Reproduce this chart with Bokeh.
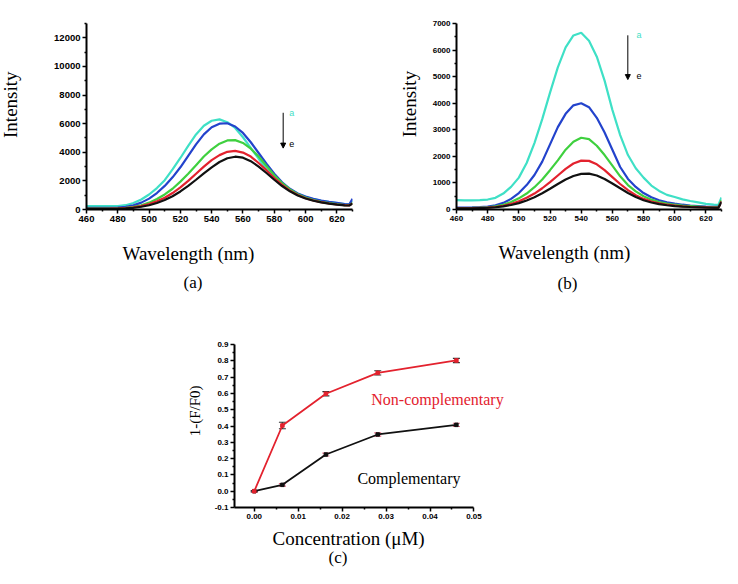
import math
from bokeh.plotting import figure
from bokeh.models import (Range1d, FixedTicker, Title, Label, Arrow, NormalHead,
                          Whisker, TeeHead, ColumnDataSource, Spacer, NumeralTickFormatter)
from bokeh.core.properties import value
from bokeh.layouts import column, row
from bokeh.embed import file_html
from bokeh.resources import INLINE

# ---------------- data ----------------
wavelength = [460, 465, 470, 475, 480, 485, 490, 495, 500, 505, 510, 515, 520, 525, 530,
              535, 540, 545, 550, 555, 560, 565, 570, 575, 580, 585, 590, 595, 600, 605,
              610, 615, 620, 625, 628, 630]

# panel (a) spectra a..e
spec_a_a = [230, 230, 230, 235, 245, 300, 450, 700, 1050, 1500, 2050, 2800, 3600, 4450, 5250,
            5850, 6200, 6300, 6100, 5700, 5050, 4300, 3550, 2850, 2250, 1750, 1380, 1100, 880, 720,
            600, 520, 440, 380, 360, 600]
spec_a_b = [110, 110, 110, 115, 130, 180, 290, 480, 760, 1150, 1650, 2250, 2950, 3750, 4550,
            5250, 5750, 6000, 6030, 5800, 5350, 4700, 3950, 3200, 2500, 1900, 1450, 1120, 900, 740,
            620, 530, 460, 380, 360, 750]
spec_a_c = [60, 60, 60, 65, 80, 110, 180, 300, 480, 730, 1050, 1450, 1950, 2500, 3100,
            3700, 4200, 4600, 4830, 4850, 4650, 4250, 3700, 3050, 2400, 1850, 1400, 1070, 830, 660,
            530, 440, 370, 310, 300, 450]
spec_a_d = [50, 50, 50, 55, 70, 95, 150, 240, 380, 570, 820, 1150, 1550, 2000, 2500,
            3000, 3450, 3800, 4030, 4100, 3980, 3700, 3250, 2750, 2200, 1720, 1320, 1010, 790, 630,
            510, 420, 350, 300, 290, 430]
spec_a_e = [40, 40, 40, 45, 60, 80, 120, 190, 300, 450, 660, 930, 1260, 1650, 2080,
            2530, 2950, 3320, 3580, 3690, 3620, 3380, 3000, 2550, 2080, 1640, 1270, 980, 770, 610,
            500, 410, 340, 290, 280, 420]

# panel (b) spectra a..e
spec_b_a = [350, 345, 345, 350, 375, 440, 600, 850, 1200, 1750, 2500, 3400, 4400, 5350, 6100,
            6550, 6650, 6350, 5750, 4850, 3750, 2800, 2050, 1550, 1200, 900, 700, 550, 470, 380,
            320, 270, 210, 180, 175, 450]
spec_b_b = [70, 75, 80, 90, 110, 160, 250, 400, 620, 920, 1300, 1800, 2450, 3100, 3600,
            3920, 4000, 3850, 3450, 2900, 2250, 1600, 1150, 850, 620, 460, 350, 270, 220, 180,
            150, 130, 110, 100, 100, 300]
spec_b_c = [50, 55, 60, 70, 85, 120, 180, 280, 420, 600, 840, 1130, 1480, 1850, 2250,
            2550, 2700, 2650, 2400, 2050, 1650, 1250, 920, 680, 500, 370, 280, 220, 180, 150,
            130, 110, 90, 80, 80, 350]
spec_b_d = [40, 45, 50, 60, 70, 95, 140, 210, 310, 440, 600, 800, 1030, 1280, 1530,
            1730, 1840, 1830, 1700, 1480, 1220, 960, 730, 540, 400, 300, 230, 180, 150, 120,
            100, 90, 80, 70, 70, 300]
spec_b_e = [40, 40, 45, 55, 65, 85, 120, 170, 240, 340, 460, 610, 780, 960, 1130,
            1260, 1340, 1350, 1280, 1150, 980, 800, 620, 470, 350, 265, 200, 160, 130, 110,
            95, 85, 75, 65, 65, 280]

spec_colors = ["#3fe0c6", "#2343cc", "#3fd03f", "#e3222e", "#111111"]

# panel (c)
concentration = [0.0, 0.0064, 0.0163, 0.0281, 0.046]
non_comp = [0.0, 0.403, 0.598, 0.726, 0.802]
non_comp_err = [0.004, 0.02, 0.013, 0.013, 0.013]
comp = [0.0, 0.039, 0.225, 0.348, 0.407]
comp_err = [0.004, 0.008, 0.009, 0.01, 0.01]

# ticks
a_xticks = [460, 480, 500, 520, 540, 560, 580, 600, 620]
a_xminor = [470, 490, 510, 530, 550, 570, 590, 610, 630]
a_yticks = [0, 2000, 4000, 6000, 8000, 10000, 12000]
a_yminor = [1000, 3000, 5000, 7000, 9000, 11000, 13000]
b_yticks = [0, 1000, 2000, 3000, 4000, 5000, 6000, 7000]
b_yminor = [500, 1500, 2500, 3500, 4500, 5500, 6500]
c_xticks = [0.0, 0.01, 0.02, 0.03, 0.04, 0.05]
c_xminor = [-0.005, 0.005, 0.015, 0.025, 0.035, 0.045]
c_yticks = [-0.1, 0.0, 0.1, 0.2, 0.3, 0.4, 0.5, 0.6, 0.7, 0.8, 0.9]
c_yminor = [-0.05, 0.05, 0.15, 0.25, 0.35, 0.45, 0.55, 0.65, 0.75, 0.85]

# annotation anchors (data units)
a_arrow = (585.7, 6760, 4290)
a_lbl_a = (589.5, 6712)
a_lbl_e = (589.5, 4563)
b_arrow = (569.9, 6555, 4890)
b_lbl_a = (575.5, 6555)
b_lbl_e = (575.5, 5037)
c_lbl_non = (0.0417, 0.563)
c_lbl_comp = (0.0352, 0.078)

SERIF = "Liberation Serif"
SANS = "Liberation Sans"


def style(p, xt, xm, yt, ym, fs):
    p.xaxis.ticker = FixedTicker(ticks=xt, minor_ticks=xm)
    p.yaxis.ticker = FixedTicker(ticks=yt, minor_ticks=ym)
    p.grid.visible = False
    p.outline_line_color = None
    for ax in list(p.xaxis) + list(p.yaxis):
        ax.axis_line_width = 2
        ax.axis_line_color = "black"
        ax.major_tick_line_width = 1.5
        ax.minor_tick_line_width = 1.5
        ax.major_tick_out = 4
        ax.major_tick_in = 0
        ax.minor_tick_out = 2
        ax.minor_tick_in = 0
        ax.major_label_text_font = SANS
        ax.major_label_text_font_style = "bold"
        ax.major_label_text_font_size = fs
        ax.major_label_text_color = "black"
        ax.major_label_standoff = 2


def add_title(p, text, side, size, offset, standoff, color="black"):
    t = Title(text=text, align="left", offset=offset, standoff=standoff,
              text_font=SERIF, text_font_size=size, text_font_style="normal",
              text_color=color)
    p.add_layout(t, side)


def ylabel_strip(width, height, text, size, cx, cy):
    """Narrow axis-less strip holding a vertical axis title (cx, cy in px from top-left)."""
    p = figure(width=width, height=height, x_range=Range1d(0, width), y_range=Range1d(0, height),
               output_backend="svg", toolbar_location=None, title_location=None,
               x_axis_location=None, y_axis_location=None, min_border=0,
               background_fill_color="white", border_fill_color="white")
    p.grid.visible = False
    p.outline_line_color = None
    p.text(x=[cx], y=[height - cy], text=[text], angle=math.pi / 2,
           text_align="center", text_baseline="middle", text_color="black",
           text_font=value(SERIF), text_font_size=size)
    return p


def spectrum_panel(width, height, borders, xr, yr, yt, ym, series, fs):
    p = figure(width=width, height=height, x_range=Range1d(*xr), y_range=Range1d(*yr),
               output_backend="svg", toolbar_location=None, title_location=None,
               min_border_left=borders[0], min_border_right=borders[1],
               min_border_top=borders[2], min_border_bottom=borders[3],
               background_fill_color="white", border_fill_color="white")
    for ys, c in zip(series, spec_colors):
        p.line(wavelength, ys, line_color=c, line_width=2.2)
    style(p, a_xticks, a_xminor, yt, ym, fs)
    return p


# ---------------- panel (a) ----------------
la = ylabel_strip(26, 300, "Intensity", "19px", 10, 131)
pa = spectrum_panel(344, 300, (60, 18, 17, 91), (460, 630), (0, 13000), a_yticks, a_yminor,
                    [spec_a_a, spec_a_b, spec_a_c, spec_a_d, spec_a_e], "9.5px")
pa.add_layout(Arrow(end=NormalHead(size=5, fill_color="black", line_color="black"),
                    x_start=a_arrow[0], y_start=a_arrow[1], x_end=a_arrow[0], y_end=a_arrow[2],
                    line_width=1, line_color="black"))
pa.add_layout(Label(x=a_lbl_a[0], y=a_lbl_a[1], text="a", text_color=spec_colors[0],
                    text_font=SANS, text_font_size="9px", text_baseline="middle"))
pa.add_layout(Label(x=a_lbl_e[0], y=a_lbl_e[1], text="e", text_color="black",
                    text_font=SANS, text_font_size="9px", text_baseline="middle"))
add_title(pa, "Wavelength (nm)", "below", "19px", 36, 33)
add_title(pa, "(a)", "below", "17px", 97, -22)

# ---------------- panel (b) ----------------
lb = ylabel_strip(55, 300, "Intensity", "19px", 39, 130)
pb = spectrum_panel(305, 300, (31, 9, 23, 88), (460, 630), (0, 7000), b_yticks, b_yminor,
                    [spec_b_a, spec_b_b, spec_b_c, spec_b_d, spec_b_e], "8px")
pb.add_layout(Arrow(end=NormalHead(size=5, fill_color="black", line_color="black"),
                    x_start=b_arrow[0], y_start=b_arrow[1], x_end=b_arrow[0], y_end=b_arrow[2],
                    line_width=1, line_color="black"))
pb.add_layout(Label(x=b_lbl_a[0], y=b_lbl_a[1], text="a", text_color=spec_colors[0],
                    text_font=SANS, text_font_size="9px", text_baseline="middle"))
pb.add_layout(Label(x=b_lbl_e[0], y=b_lbl_e[1], text="e", text_color="black",
                    text_font=SANS, text_font_size="9px", text_baseline="middle"))
add_title(pb, "Wavelength (nm)", "below", "19px", 42, 33)
add_title(pb, "(b)", "below", "17px", 101, -16)

# ---------------- panel (c) ----------------
lc = ylabel_strip(30, 280, "1-(F/F0)", "15px", 14, 114)
pc = figure(width=333, height=280, x_range=Range1d(-0.0045, 0.059), y_range=Range1d(-0.1, 0.9),
            output_backend="svg", toolbar_location=None, title_location=None,
            min_border_left=24, min_border_right=30, min_border_top=44, min_border_bottom=73,
            background_fill_color="white", border_fill_color="white")
style(pc, c_xticks, c_xminor, c_yticks, c_yminor, "8px")
pc.xaxis.bounds = (-0.0045, 0.05)
pc.xaxis.formatter = NumeralTickFormatter(format="0.00")
pc.yaxis.formatter = NumeralTickFormatter(format="0.0")

src_non = ColumnDataSource(dict(x=concentration, y=non_comp,
                                lo=[v - e for v, e in zip(non_comp, non_comp_err)],
                                hi=[v + e for v, e in zip(non_comp, non_comp_err)]))
src_comp = ColumnDataSource(dict(x=concentration, y=comp,
                                 lo=[v - e for v, e in zip(comp, comp_err)],
                                 hi=[v + e for v, e in zip(comp, comp_err)]))

pc.line("x", "y", source=src_comp, line_color="#111111", line_width=1.8)
pc.line("x", "y", source=src_non, line_color="#e3222e", line_width=1.8)
pc.add_layout(Whisker(source=src_comp, base="x", upper="hi", lower="lo", line_color="#e0607a",
                      line_width=1.2,
                      upper_head=TeeHead(size=7, line_color="#e0607a", line_width=1.2),
                      lower_head=TeeHead(size=7, line_color="#e0607a", line_width=1.2)))
pc.add_layout(Whisker(source=src_non, base="x", upper="hi", lower="lo", line_color="#333333",
                      line_width=1.2,
                      upper_head=TeeHead(size=7, line_color="#333333", line_width=1.2),
                      lower_head=TeeHead(size=7, line_color="#333333", line_width=1.2)))
pc.scatter("x", "y", source=src_comp, marker="square", size=3.5, color="#111111")
pc.scatter("x", "y", source=src_non, marker="square", size=3.5, color="#e3222e")

pc.add_layout(Label(x=c_lbl_non[0], y=c_lbl_non[1], text="Non-complementary",
                    text_color="#e3222e", text_font=SERIF, text_font_size="16px",
                    text_align="center", text_baseline="middle"))
pc.add_layout(Label(x=c_lbl_comp[0], y=c_lbl_comp[1], text="Complementary",
                    text_color="black", text_font=SERIF, text_font_size="16px",
                    text_align="center", text_baseline="middle"))
add_title(pc, "Concentration (\u03bcM)", "below", "19px", 38, 8)
add_title(pc, "(c)", "below", "17px", 94, -13)

layout = column(row(la, pa, lb, pb), row(Spacer(width=180, height=280), lc, pc))

with open("out.html", "w") as f:
    f.write(file_html(layout, INLINE))
